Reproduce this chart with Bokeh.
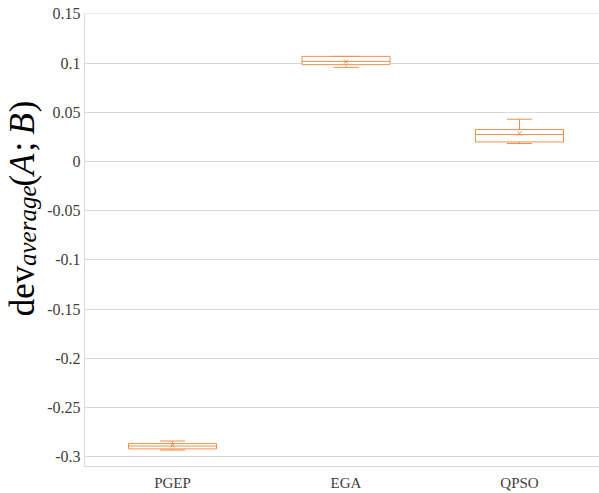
import math
from bokeh.plotting import figure
from bokeh.layouts import row
from bokeh.models import ColumnDataSource, FixedTicker, NumeralTickFormatter, Range1d
from bokeh.core.properties import value
from bokeh.embed import file_html
from bokeh.resources import INLINE

# ---- data ----
categories = ["PGEP", "EGA", "QPSO"]
mins = [-0.2934, 0.0957, 0.0183]
q1s = [-0.2922, 0.0985, 0.0199]
medians = [-0.2893, 0.1018, 0.0274]
q3s = [-0.2868, 0.1069, 0.0325]
maxs = [-0.2842, 0.1069, 0.0430]
means = [-0.2886, 0.1015, 0.0284]
y_ticks = [0.15, 0.1, 0.05, 0.0, -0.05, -0.1, -0.15, -0.2, -0.25, -0.3]
y_title_parts = ["dev", "average", "(", "A", ";", "B", ")"]

# ---- layout constants ----
X0, X1 = 0.4928, 3.461
Y0, Y1 = -0.3101, 0.1505
BOX_W = 0.507
CAP_W = 0.145
ORANGE = "#ED7D31"
GRID = "#D9D9D9"
FONT = "Liberation Serif"
TITLE_W = 44

pos = [i + 1 for i in range(len(categories))]
src = ColumnDataSource(dict(
    x=pos,
    left=[p - BOX_W / 2 for p in pos],
    right=[p + BOX_W / 2 for p in pos],
    cl=[p - CAP_W / 2 for p in pos],
    cr=[p + CAP_W / 2 for p in pos],
    mn=mins, q1=q1s, med=medians, q3=q3s, mx=maxs, mean=means,
))

p = figure(width=599 - TITLE_W, height=493, output_backend="svg", toolbar_location=None,
           x_range=Range1d(X0, X1), y_range=Range1d(Y0, Y1),
           min_border_left=84 - TITLE_W, min_border_right=0, min_border_top=13, min_border_bottom=26)
p.outline_line_color = None
p.background_fill_color = "white"
p.border_fill_color = "white"

st = dict(source=src, line_color=ORANGE, line_width=1, line_alpha=0.85)
# whiskers
p.segment(x0="x", y0="q3", x1="x", y1="mx", **st)
p.segment(x0="x", y0="q1", x1="x", y1="mn", **st)
p.segment(x0="cl", y0="mx", x1="cr", y1="mx", **st)
p.segment(x0="cl", y0="mn", x1="cr", y1="mn", **st)
# boxes
p.quad(left="left", right="right", bottom="q1", top="q3", fill_color="white", **st)
# medians
p.segment(x0="left", y0="med", x1="right", y1="med", **st)
# means
p.scatter(x="x", y="mean", marker="x", size=6, **st)

# axes
p.xgrid.grid_line_color = None
p.ygrid.grid_line_color = GRID
p.ygrid.ticker = FixedTicker(ticks=y_ticks)
p.yaxis.ticker = FixedTicker(ticks=y_ticks)
p.yaxis.formatter = NumeralTickFormatter(format="0.[00]")
p.xaxis.ticker = FixedTicker(ticks=pos)
p.xaxis.major_label_overrides = {pp: c for pp, c in zip(pos, categories)}
for ax in (p.xaxis, p.yaxis):
    ax.axis_line_color = GRID
    ax.major_tick_line_color = None
    ax.minor_tick_line_color = None
    ax.major_tick_out = 0
    ax.major_tick_in = 0
    ax.major_label_text_font = FONT
    ax.major_label_text_color = "#404040"
p.yaxis.major_label_text_font_size = "16px"
p.xaxis.major_label_text_font_size = "15px"
p.yaxis.major_label_standoff = 4
p.xaxis.major_label_standoff = 8

# ---- y-axis title panel (pixel coordinates, y downwards) ----
t = figure(width=TITLE_W, height=493, output_backend="svg", toolbar_location=None,
           x_range=Range1d(0, TITLE_W), y_range=Range1d(493, 0),
           min_border=0, min_border_left=0, min_border_right=0, min_border_top=0, min_border_bottom=0)
t.axis.visible = False
t.grid.visible = False
t.outline_line_color = None
t.background_fill_color = "white"
t.border_fill_color = "white"

S, SUB = 35, 25
tsrc = ColumnDataSource(dict(
    text=y_title_parts,
    py=[302, 231, 182, 164, 145, 120, 101],
    px=[22, 27, 22, 22, 22, 22, 22],
    fs=[f"{S}px", f"{SUB}px", f"{S}px", f"{S}px", f"{S}px", f"{S}px", f"{S}px"],
    style=["normal", "italic", "normal", "italic", "normal", "italic", "normal"],
))
t.text(x="px", y="py", text="text", source=tsrc, angle=math.pi / 2,
       text_align="center", text_baseline="middle",
       text_font=value(FONT), text_font_size="fs", text_font_style="style",
       text_color="black")

layout = row(t, p, spacing=0)
open("out.html", "w").write(file_html(layout, INLINE))
